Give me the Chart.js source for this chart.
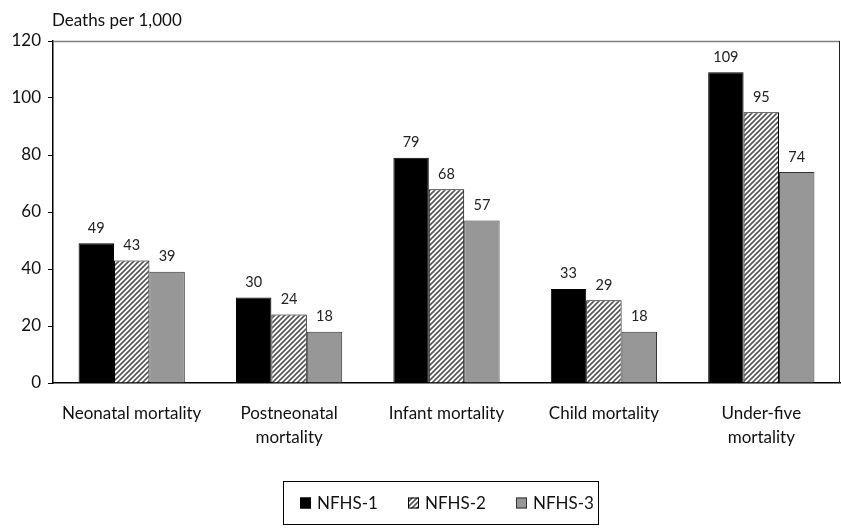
<!DOCTYPE html>
<html>
<head>
<meta charset="utf-8">
<script src="https://cdn.jsdelivr.net/npm/chart.js@4.4.1/dist/chart.umd.min.js"></script>
<style>
  html, body { margin: 0; padding: 0; background: #fff; }
  #wrap { width: 841px; height: 529px; }
</style>
</head>
<body>
<div id="wrap"><canvas id="myChart"></canvas></div>
<script>
const categorias = [['Neonatal mortality'], ['Postneonatal', 'mortality'], ['Infant mortality'], ['Child mortality'], ['Under-five', 'mortality']];
const nfhs1 = [49, 30, 79, 33, 109];
const nfhs2 = [43, 24, 68, 29, 95];
const nfhs3 = [39, 18, 57, 18, 74];
const series = ['NFHS-1', 'NFHS-2', 'NFHS-3'];
const yTicks = [0, 20, 40, 60, 80, 100, 120];

const FONT = 'Lato, "Open Sans", sans-serif';

// patron de rayas diagonales para NFHS-2
function hatch() {
  const c = document.createElement('canvas');
  c.width = 5; c.height = 5;
  const g = c.getContext('2d');
  g.fillStyle = '#fff';
  g.fillRect(0, 0, 5, 5);
  g.strokeStyle = '#555';
  g.lineWidth = 1.6;
  g.beginPath();
  g.moveTo(-1, 6); g.lineTo(6, -1);
  g.moveTo(-1, 1); g.lineTo(1, -1);
  g.moveTo(4, 6); g.lineTo(6, 4);
  g.stroke();
  return g.createPattern(c, 'repeat');
}
const rayas = hatch();

const fondos = ['#000000', rayas, '#979797'];
const bordes = ['#000000', '#000000', '#333333'];

// etiquetas, titulo del eje, marco y leyenda
const extras = {
  id: 'extras',
  afterDraw(chart) {
    const ctx = chart.ctx;
    const a = chart.chartArea;
    ctx.save();
    // marco superior y derecho
    ctx.strokeStyle = '#808080';
    ctx.lineWidth = 1.5;
    ctx.beginPath();
    ctx.moveTo(a.left, a.top + 0.5);
    ctx.lineTo(a.right, a.top + 0.5);
    ctx.stroke();
    ctx.strokeStyle = '#222';
    ctx.lineWidth = 1;
    ctx.beginPath();
    ctx.moveTo(a.right - 0.5, a.top);
    ctx.lineTo(a.right - 0.5, a.bottom);
    ctx.stroke();

    // valores sobre las barras
    ctx.fillStyle = '#222';
    ctx.font = '14.5px ' + FONT;
    ctx.textAlign = 'center';
    ctx.textBaseline = 'bottom';
    chart.data.datasets.forEach((ds, i) => {
      chart.getDatasetMeta(i).data.forEach((bar, j) => {
        ctx.fillText(ds.data[j], bar.x, bar.y - 8);
      });
    });

    // titulo del eje y
    ctx.textAlign = 'left';
    ctx.textBaseline = 'alphabetic';
    ctx.font = '17px ' + FONT;
    ctx.fillStyle = '#111';
    ctx.fillText('Deaths per 1,000', 52, 26);

    // leyenda con recuadro
    const lx = 283, ly = 481, lw = 315, lh = 43;
    ctx.strokeStyle = '#000';
    ctx.lineWidth = 1;
    ctx.strokeRect(lx + 0.5, ly + 0.5, lw, lh);
    const xs = [300, 408, 516];
    const cy = ly + lh / 2 + 1;
    ctx.font = '17px ' + FONT;
    ctx.textBaseline = 'middle';
    chart.data.datasets.forEach((ds, i) => {
      ctx.fillStyle = ds.backgroundColor;
      ctx.fillRect(xs[i], cy - 6, 11, 11);
      ctx.strokeStyle = ds.borderColor;
      ctx.strokeRect(xs[i] + 0.5, cy - 5.5, 10, 10);
      ctx.fillStyle = '#111';
      ctx.fillText(ds.label, xs[i] + 17, cy);
    });
    ctx.restore();
  }
};

const ctx = document.getElementById('myChart');
const myChart = new Chart(ctx, {
  type: 'bar',
  data: {
    labels: categorias,
    datasets: series.map((s, i) => ({
      label: s,
      data: [nfhs1, nfhs2, nfhs3][i],
      backgroundColor: fondos[i],
      borderColor: bordes[i],
      borderWidth: 1,
      categoryPercentage: 0.675,
      barPercentage: 1
    }))
  },
  options: {
    responsive: true,
    maintainAspectRatio: false,
    animation: false,
    layout: { padding: { top: 41, right: 1, bottom: 0, left: 0 } },
    plugins: {
      legend: { display: false },
      tooltip: { enabled: false }
    },
    scales: {
      x: {
        grid: { display: false, drawTicks: false },
        border: { color: '#000', width: 1.5 },
        ticks: { color: '#111', font: { family: FONT, size: 17, lineHeight: 1.4 }, padding: 19, maxRotation: 0, autoSkip: false },
        afterFit: (scale) => { scale.height = 146; }
      },
      y: {
        min: 0,
        max: 120,
        afterBuildTicks: (scale) => { scale.ticks = yTicks.map(v => ({ value: v })); },
        grid: { drawOnChartArea: false, tickLength: 5, color: '#000' },
        border: { color: '#000', width: 1.5 },
        ticks: { color: '#111', font: { family: FONT, size: 17 }, padding: 7 },
        afterFit: (scale) => { scale.width = 53; }
      }
    }
  },
  plugins: [extras]
});
</script>
</body>
</html>
